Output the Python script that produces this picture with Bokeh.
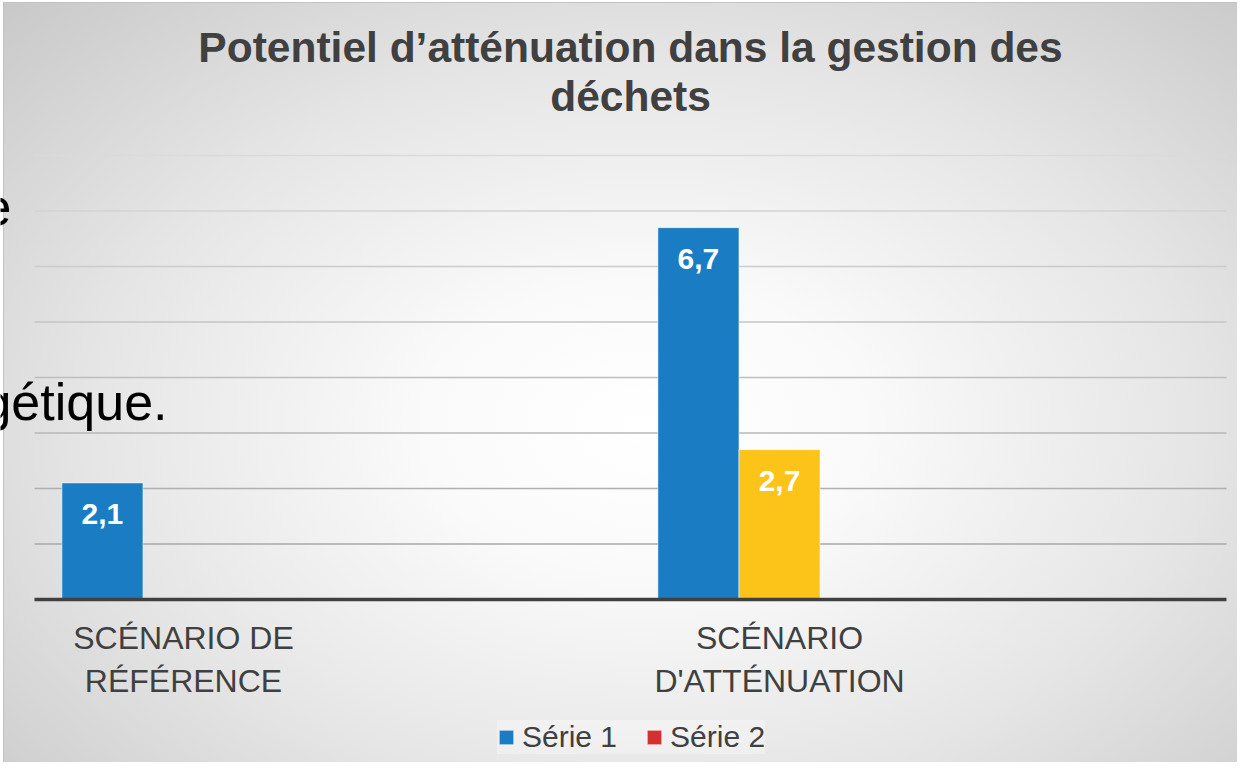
from bokeh.plotting import figure
from bokeh.models import (ColumnDataSource, Range1d, Legend, LegendItem,
                          LabelSet, Label, FixedTicker)
from bokeh.core.properties import value
from bokeh.transform import dodge
from bokeh.embed import file_html
from bokeh.resources import INLINE

# ---- data ----
categories = ["SCÉNARIO DE\nRÉFÉRENCE", "", "SCÉNARIO\nD'ATTÉNUATION", ""]
bar_cats = [0, 2]                      # indices into categories
serie1_vals = [2.1, 6.7]
serie2_vals = [0.0, 2.7]
series_names = ["Série 1", "Série 2"]
title_lines = ["Potentiel d’atténuation dans la gestion des", "déchets"]
grid_ticks = [1, 2, 3, 4, 5, 6, 7, 8]
y_max = 8
fragments = ["e", "gétique."]          # slide text showing behind the chart

# ---- styles / layout ----
FONT = "Liberation Sans"
BLUE = "#1A7DC4"
YELLOW = "#FCC419"
RED = "#D3302F"
TEXT = "#404040"
BAR_W = 0.272
serie2_colors = [RED, YELLOW]          # series colour red, 2nd point recoloured yellow
W, H = 1237, 762
PL, PR, PT, PB = 34, 1226, 155, 599    # plot-area pixels inside the figure
ncat = len(categories)
cat_px = (PR - PL) / ncat
unit_px = (PB - PT) / y_max
LIFT = 16                              # label baseline correction (px)

def fmt(v):
    return f"{v:.1f}".replace(".", ",")

xc = [i + 0.5 for i in bar_cats]
src1 = ColumnDataSource(dict(x=xc, val=serie1_vals, lab=[fmt(v) for v in serie1_vals]))
src2 = ColumnDataSource(dict(x=xc, val=serie2_vals, color=serie2_colors,
                             lab=[fmt(v) if v else "" for v in serie2_vals]))

p = figure(width=W, height=H,
           x_range=Range1d(-PL / cat_px, ncat + (W - PR) / cat_px),
           y_range=Range1d(-(H - PB) / unit_px, y_max + PT / unit_px),
           output_backend="svg", toolbar_location=None, min_border=0)

p.styles = {"background": "radial-gradient(ellipse farthest-corner at 52% 56%, "
                          "#ffffff 0%, #fafafa 24%, #e6e6e6 60%, #c8c8c8 100%)",
            "box-shadow": "inset 3px 2px 0 #ffffff, inset 4px 3px 0 #c2c2c2"}
p.background_fill_color = None
p.border_fill_color = None
p.outline_line_color = None
p.grid.visible = False
p.yaxis.visible = False

# gridlines across the category area, lighter towards the top
def mix(a, b, t):
    a = [int(a[i:i + 2], 16) for i in (1, 3, 5)]
    b = [int(b[i:i + 2], 16) for i in (1, 3, 5)]
    return "#" + "".join(f"{round(x + (y - x) * t):02x}" for x, y in zip(a, b))
grid_colors = [mix("#a9a9a9", "#dadada", (t - 1) / (len(grid_ticks) - 1)) for t in grid_ticks]
p.segment(x0=[0] * len(grid_ticks), x1=[ncat] * len(grid_ticks), y0=grid_ticks, y1=grid_ticks,
          line_color=grid_colors, line_width=1.5)

r1 = p.vbar(x=dodge("x", -BAR_W), top="val", width=BAR_W, source=src1,
            fill_color=BLUE, line_color="white", line_alpha=0.5, line_width=1)
r2 = p.vbar(x=dodge("x", 0), top="val", width=BAR_W, source=src2,
            fill_color="color", line_color="white", line_alpha=0.5, line_width=1)

for src, off in ((src1, -BAR_W), (src2, 0)):
    p.add_layout(LabelSet(x=dodge("x", off), y="val", text="lab", source=src,
                          text_align="center", text_baseline="middle", y_offset=-31,
                          text_font=value(FONT), text_font_size=value("30px"),
                          text_font_style="bold", text_color="white"))

xa = p.xaxis[0]
xa.fixed_location = 0
xa.bounds = (0, ncat)
xa.ticker = FixedTicker(ticks=[i + 0.5 for i, c in enumerate(categories) if c])
xa.major_label_overrides = {i + 0.5: c for i, c in enumerate(categories) if c}
xa.axis_line_color = TEXT
xa.axis_line_width = 3.5
xa.major_tick_line_color = None
xa.minor_tick_line_color = None
xa.major_label_text_font = FONT
xa.major_label_text_font_size = "32px"
xa.major_label_text_color = TEXT
xa.major_label_standoff = 14

# title (two centred lines)
for txt, base in zip(title_lines, (63, 112)):
    p.add_layout(Label(x=(PL + PR) / 2, y=H - base + LIFT, x_units="screen", y_units="screen",
                       text=txt, text_align="center", text_baseline="alphabetic",
                       text_font=FONT, text_font_size="42.5px", text_font_style="bold",
                       text_color=TEXT))

legend = Legend(items=[LegendItem(label=series_names[0], renderers=[r1], index=0),
                       LegendItem(label=series_names[1], renderers=[r2], index=0)],
                location=(497, 8), orientation="horizontal")
legend.label_text_font = FONT
legend.label_text_font_size = "30px"
legend.label_text_color = TEXT
legend.glyph_width = 18
legend.glyph_height = 18
legend.label_standoff = 7
legend.spacing = 28
legend.padding = 20
legend.margin = 0
legend.background_fill_color = "#ffffff"
legend.background_fill_alpha = 0.3
legend.border_line_color = None
p.add_layout(legend)

for txt, x, base in zip(fragments, (11, 167), (222, 417)):
    p.add_layout(Label(x=x, y=H - base + LIFT, x_units="screen", y_units="screen", text=txt,
                       text_align="right", text_baseline="alphabetic",
                       text_font=FONT, text_font_size="52px", text_color="black"))

open("out.html", "w").write(file_html(p, INLINE))
